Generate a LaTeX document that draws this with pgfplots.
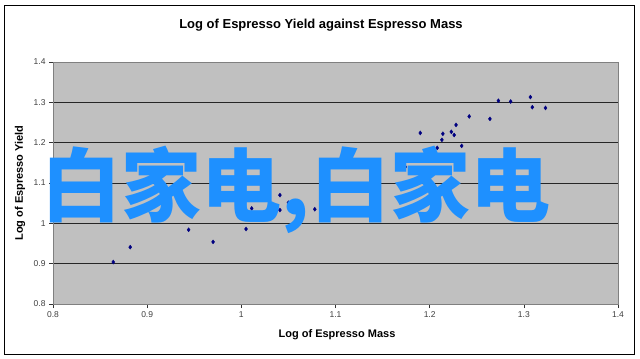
\documentclass[border=0pt]{standalone}
\usepackage{pgfplots}
\pgfplotsset{compat=1.18}
\usepackage{fontspec}
\setmainfont{Liberation Sans}
\newfontfamily\cjk{Noto Sans CJK SC}
\definecolor{plotgray}{RGB}{192,192,192}
\definecolor{navymark}{RGB}{0,0,128}
\definecolor{wmblue}{RGB}{30,144,255}
\begin{document}
\begin{tikzpicture}
\path[fill=white] (0,0) rectangle (640bp,359bp);
\draw[black, line width=0.6bp] (4bp,5bp) rectangle (634bp,354bp);
\begin{axis}[
  at={(53bp,55bp)}, anchor=south west,
  scale only axis, width=565bp, height=242bp,
  xmin=0.8, xmax=1.4, ymin=0.8, ymax=1.4,
  xtick={0.8,0.9,1,1.1,1.2,1.3,1.4},
  ytick={0.8,0.9,1,1.1,1.2,1.3,1.4},
  xticklabels={0.8,0.9,1,1.1,1.2,1.3,1.4},
  yticklabels={0.8,0.9,1,1.1,1.2,1.3,1.4},
  /pgf/number format/assume math mode=true,
  ticklabel style={font=\fontsize{8.5bp}{10bp}\selectfont, text=black!75},
  tick align=outside, major tick length=4bp,
  tick style={black!80, line width=0.5bp},
  xtick pos=bottom, ytick pos=left,
  ymajorgrids, grid style={black!85, line width=0.6bp},
  axis background/.style={fill=plotgray},
  axis line style={draw=black!50, line width=0.6bp},
  clip=false,
]
\addplot[only marks, mark=diamond*, mark size=2bp, color=navymark] coordinates {
(0.864,0.904) (0.882,0.941) (0.944,0.984) (0.970,0.954) (1.005,0.986)
(1.011,1.037) (1.041,1.070) (1.041,1.033) (1.050,1.051) (1.078,1.035)
(1.139,1.156) (1.174,1.140) (1.190,1.224) (1.201,1.180) (1.204,1.185)
(1.208,1.187) (1.213,1.207) (1.214,1.222) (1.223,1.227) (1.226,1.219)
(1.228,1.244) (1.234,1.192) (1.242,1.265) (1.264,1.259) (1.273,1.304)
(1.286,1.302) (1.307,1.313) (1.309,1.288) (1.323,1.286)
};
\end{axis}
\node[font=\fontsize{13bp}{15bp}\selectfont\bfseries] at (321bp,334bp) {Log of Espresso Yield against Espresso Mass};
\node[font=\fontsize{11bp}{13bp}\selectfont\bfseries] at (337bp,24bp) {Log of Espresso Mass};
\node[font=\fontsize{11bp}{13bp}\selectfont\bfseries, rotate=90] at (20bp,176bp) {Log of Espresso Yield};
\node[font=\cjk\bfseries\fontsize{80bp}{84bp}\selectfont, text=wmblue, inner sep=0pt] at (296bp,169bp) {白家电,白家电};
\end{tikzpicture}
\end{document}
